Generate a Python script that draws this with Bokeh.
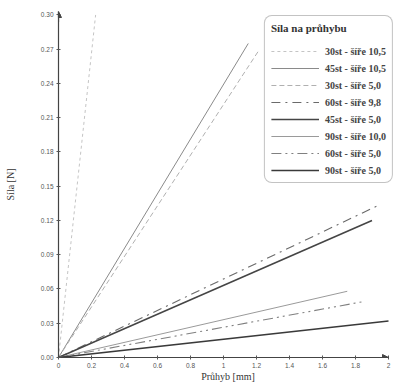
from bokeh.plotting import figure
from bokeh.models import Range1d, FixedTicker, Legend, LegendItem, Arrow, NormalHead, PrintfTickFormatter
from bokeh.embed import file_html
from bokeh.resources import INLINE

# ---- data ----
series_names = ["30st - šíře 10,5", "45st - šíře 10,5", "30st - šíře 5,0", "60st - šíře 9,8",
                "45st - šíře 5,0", "90st - šíře 10,0", "60st - šíře 5,0", "90st - šíře 5,0"]
x_30_105 = [0, 0.225]; y_30_105 = [0, 0.30]
x_45_105 = [0, 1.15];  y_45_105 = [0, 0.275]
x_30_50 = [0, 1.21];   y_30_50 = [0, 0.268]
x_60_98 = [0, 1.95];   y_60_98 = [0, 0.134]
x_45_50 = [0, 1.90];   y_45_50 = [0, 0.12]
x_90_100 = [0, 1.75];  y_90_100 = [0, 0.058]
x_60_50 = [0, 1.85];   y_60_50 = [0, 0.049]
x_90_50 = [0, 2.0];    y_90_50 = [0, 0.032]

x_ticks = [0, 0.2, 0.4, 0.6, 0.8, 1.0, 1.2, 1.4, 1.6, 1.8, 2.0]
x_tick_labels = ["0", "0.2", "0.4", "0.6", "0.8", "1", "1.2", "1.4", "1.6", "1.8", "2"]
y_ticks = [0.0, 0.03, 0.06, 0.09, 0.12, 0.15, 0.18, 0.21, 0.24, 0.27, 0.30]

# ---- styling ----
xs = [x_30_105, x_45_105, x_30_50, x_60_98, x_45_50, x_90_100, x_60_50, x_90_50]
ys = [y_30_105, y_45_105, y_30_50, y_60_98, y_45_50, y_90_100, y_60_50, y_90_50]
colors = ["#c4c4c4", "#8a8a8a", "#b0b0b0", "#6a6a6a", "#454545", "#9a9a9a", "#808080", "#3a3a3a"]
widths = [1.0, 1.0, 1.0, 1.1, 1.6, 1.0, 1.1, 1.6]
dashes = ["3 3", "solid", "5 3", "9 5 2 5", "solid", "solid", "10 4 2 4 2 4", "solid"]

X_AXIS_END = 2.0
X_MAX = 2.0545
Y_MAX = 0.303

p = figure(width=397, height=384, output_backend="svg", toolbar_location=None,
           x_range=Range1d(0, X_MAX), y_range=Range1d(0, Y_MAX),
           min_border_left=58, min_border_right=0, min_border_top=11, min_border_bottom=18)
p.outline_line_color = None
p.xgrid.grid_line_color = None
p.ygrid.grid_line_color = None
p.background_fill_color = "white"

items = []
for name, x, y, c, w, d in zip(series_names, xs, ys, colors, widths, dashes):
    r = p.line(x, y, line_color=c, line_width=w, line_dash=d)
    items.append(LegendItem(label=name, renderers=[r]))

legend = Legend(items=items, location="top_right", margin=4)
legend.title = "Síla na průhybu"
legend.title_text_font = "Liberation Serif"
legend.title_text_font_style = "bold"
legend.title_text_font_size = "11px"
legend.title_text_color = "#333333"
legend.title_standoff = 11
legend.label_text_font = "Liberation Serif"
legend.label_text_font_style = "bold"
legend.label_text_font_size = "10px"
legend.label_text_color = "#444444"
legend.glyph_width = 48
legend.glyph_height = 12
legend.label_height = 12
legend.spacing = 5
legend.padding = 6
legend.label_standoff = 6
legend.border_line_color = "#888888"
legend.border_line_width = 1
legend.background_fill_color = "white"
legend.background_fill_alpha = 1.0
if "border_radius" in Legend.properties():
    legend.border_radius = 8
p.add_layout(legend)

# axes
p.xaxis.ticker = FixedTicker(ticks=x_ticks)
p.xaxis.bounds = (0, X_AXIS_END)
p.xaxis.major_label_overrides = {t: l for t, l in zip(x_ticks, x_tick_labels)}
p.yaxis.ticker = FixedTicker(ticks=y_ticks)
p.yaxis.formatter = PrintfTickFormatter(format="%.2f")
for ax in (p.xaxis[0], p.yaxis[0]):
    ax.axis_line_color = "#444444"
    ax.axis_line_width = 1.2
    ax.major_tick_line_color = "#555555"
    ax.major_tick_in = 2
    ax.major_tick_out = 2
    ax.minor_tick_line_color = None
    ax.major_label_text_font = "Liberation Sans"
    ax.major_label_text_font_size = "6.5px"
    ax.major_label_text_color = "#555555"
    ax.major_label_standoff = 3
    ax.axis_label_text_font = "Liberation Serif"
    ax.axis_label_text_font_style = "normal"
    ax.axis_label_text_font_size = "10px"
    ax.axis_label_text_color = "#333333"
    ax.axis_label_standoff = 0
p.xaxis.axis_label = "Průhyb [mm]"
p.yaxis.axis_label = "Síla [N]"
p.yaxis.axis_label_standoff = 22

# axis arrow heads
p.add_layout(Arrow(end=NormalHead(size=6, fill_color="#444444", line_color="#444444"),
                   x_start=X_AXIS_END * 0.97, y_start=0, x_end=X_AXIS_END, y_end=0,
                   line_color="#444444", line_width=1.2))
p.add_layout(Arrow(end=NormalHead(size=6, fill_color="#444444", line_color="#444444"),
                   x_start=0, y_start=Y_MAX * 0.97, x_end=0, y_end=Y_MAX,
                   line_color="#444444", line_width=1.2))

open("out.html", "w").write(file_html(p, INLINE))
